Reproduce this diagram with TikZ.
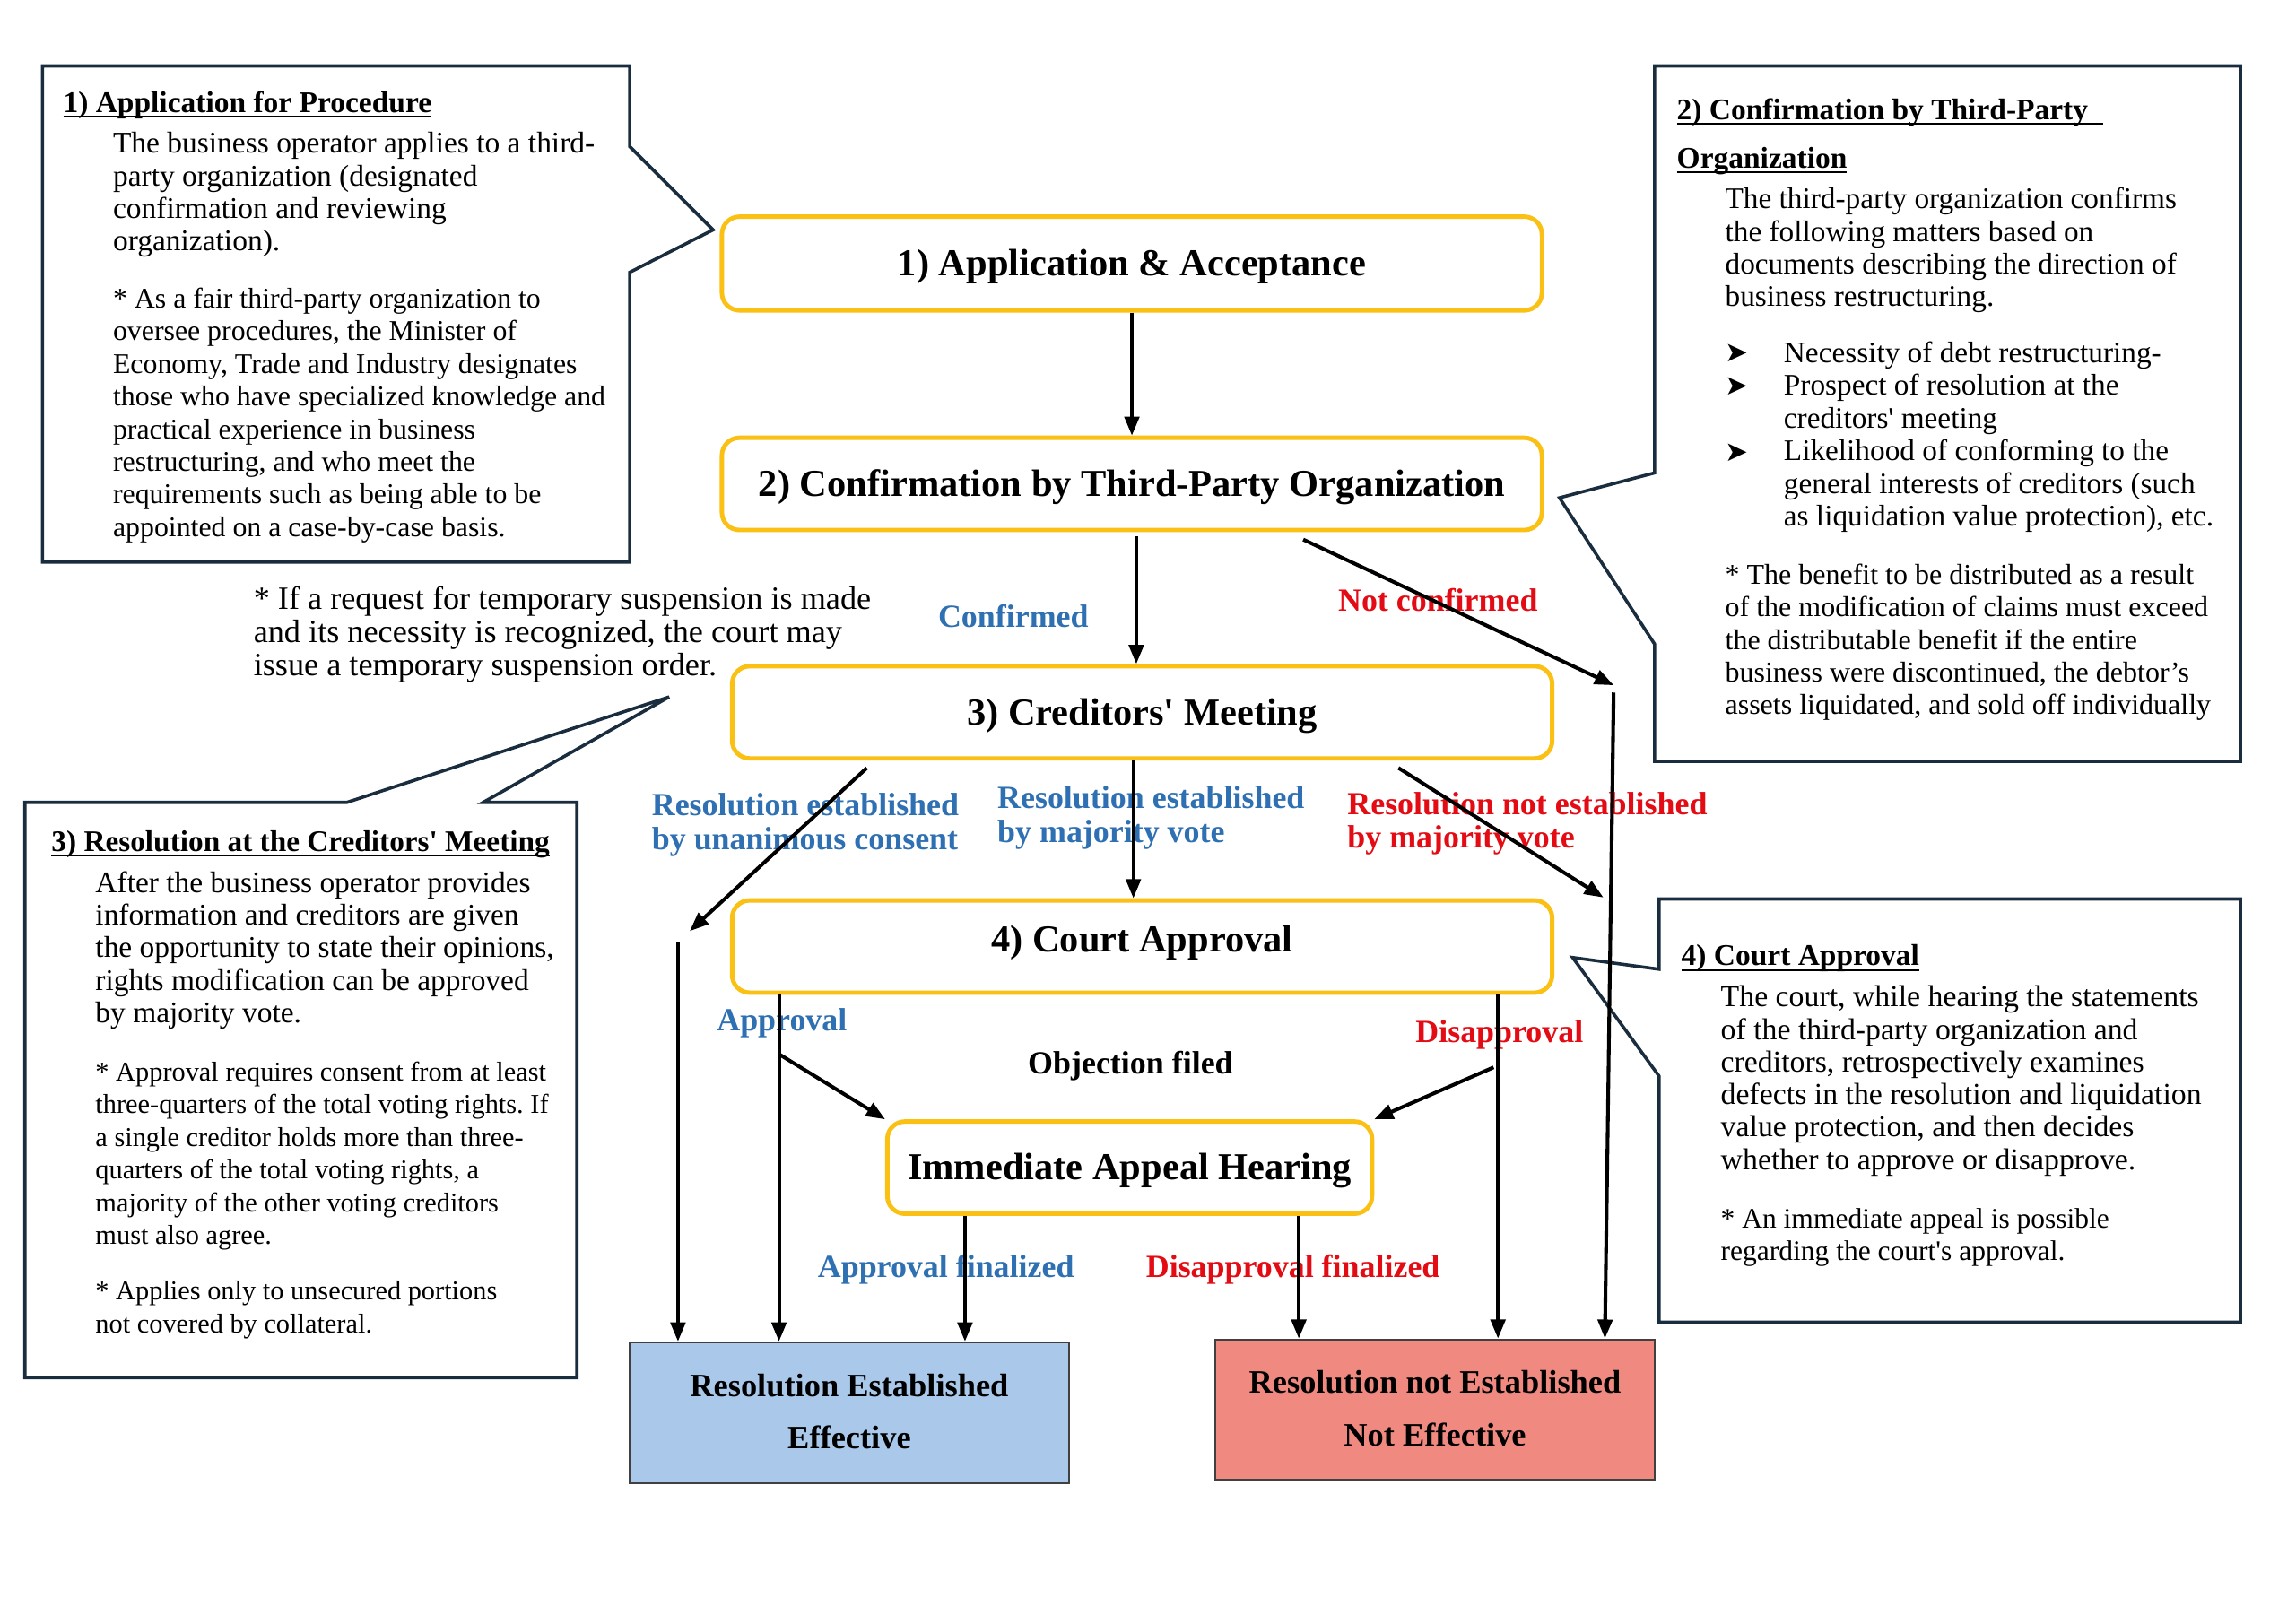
\documentclass[tikz,border=0pt]{standalone}
\usepackage{fontspec}
\setmainfont{Liberation Serif}
\newfontfamily\dejavu{DejaVu Sans}
\usetikzlibrary{arrows.meta}
\definecolor{gold}{RGB}{250,192,20}
\definecolor{navy}{RGB}{25,45,62}
\definecolor{lblue}{RGB}{46,112,178}
\definecolor{lred}{RGB}{228,12,20}
\definecolor{resblue}{RGB}{169,200,234}
\definecolor{resred}{RGB}{240,138,128}
\newsavebox\ulbox
\newcommand\myul[1]{\sbox\ulbox{#1}\rlap{\rule[-3.5pt]{\wd\ulbox}{1.3pt}}\usebox\ulbox}
\newcommand\tp{\rule{0pt}{0.8em}}
\newcommand\sq{\XeTeXglyph\XeTeXcharglyph"27\relax}
\frenchspacing
\begin{document}
\frenchspacing
\begin{tikzpicture}[x=1pt,y=-1pt,
  flow/.style={draw=gold, line width=3, rounded corners=12, fill=white,
    font=\fontsize{26}{30}\selectfont\bfseries, inner sep=0, text height=17, text depth=0},
  res/.style={draw=black!75, line width=1.5, font=\fontsize{22.3}{36}\selectfont\bfseries,
    align=center, minimum width=300, minimum height=96, inner sep=0},
  arr/.style={line width=2.5, -{Triangle[length=13,width=10]}},
  callout/.style={draw=navy, line width=2.2, line join=miter},
  txt/.style={anchor=north west, inner sep=0, align=left},
  lbl/.style={font=\fontsize{22}{23}\selectfont\bfseries, inner sep=0},
  bul/.style={inner sep=0, font=\dejavu\fontsize{19}{19}\selectfont}]
\fill[white] (0,0) rectangle (1568,1109);
\useasboundingbox (0,0) rectangle (1568,1109);

% ---------- callout outlines ----------
\draw[callout] (29,45) -- (430,45) -- (430,100) -- (487,157) -- (430,186) -- (430,384) -- (29,384) -- cycle;
\draw[callout] (1130,45) -- (1530,45) -- (1530,520) -- (1130,520) -- (1130,440) -- (1065,340) -- (1130,323) -- cycle;
\draw[callout] (17,548) -- (237,548) -- (457,476) -- (330,548) -- (394,548) -- (394,941) -- (17,941) -- cycle;
\draw[callout] (1133,614) -- (1530,614) -- (1530,903) -- (1133,903) -- (1133,735) -- (1074,654) -- (1133,662) -- cycle;

% ---------- callout 1 ----------
\node[txt, font=\fontsize{20.5}{22.2}\selectfont\bfseries] (c1t) at (43,60) {\tp\myul{1) Application for Procedure}};
\node[txt, font=\fontsize{20.5}{22.2}\selectfont] (c1b) at (77,88) {\tp The business operator applies to a third-\\party organization (designated\\confirmation and reviewing\\organization).};
\node[txt, font=\fontsize{19.5}{22.3}\selectfont] (c1n) at (77,194.6) {\tp * As a fair third-party organization to\\oversee procedures, the Minister of\\Economy, Trade and Industry designates\\those who have specialized knowledge and\\practical experience in business\\restructuring, and who meet the\\requirements such as being able to be\\appointed on a case-by-case basis.};

% ---------- callout 2 ----------
\node[txt, font=\fontsize{20.5}{33}\selectfont\bfseries] (c2t) at (1145,65) {\tp\myul{2) Confirmation by Third-Party\ \ }\\\myul{Organization}};
\node[txt, font=\fontsize{20.4}{22.3}\selectfont] (c2b) at (1178,126) {\tp The third-party organization confirms\\the following matters based on\\documents describing the direction of\\business restructuring.};
\node[bul] (k1) at (1186,241) {➤};
\node[bul] (k2) at (1186,264) {➤};
\node[bul] (k3) at (1186,309) {➤};
\node[txt, font=\fontsize{20.4}{22.4}\selectfont] (c2l) at (1218,231) {\tp Necessity of debt restructuring-\\Prospect of resolution at the\\creditors\sq{} meeting\\Likelihood of conforming to the\\general interests of creditors (such\\as liquidation value protection), etc.};
\node[txt, font=\fontsize{19.6}{22.3}\selectfont] (c2n) at (1178,383) {\tp * The benefit to be distributed as a result\\of the modification of claims must exceed\\the distributable benefit if the entire\\business were discontinued, the debtor’s\\assets liquidated, and sold off individually};

% ---------- callout 3 ----------
\node[txt, font=\fontsize{20.4}{22.2}\selectfont\bfseries] (c3t) at (35,565) {\tp\myul{3) Resolution at the Creditors\sq{} Meeting}};
\node[txt, font=\fontsize{20.5}{22.25}\selectfont] (c3b) at (65,593) {\tp After the business operator provides\\information and creditors are given\\the opportunity to state their opinions,\\rights modification can be approved\\by majority vote.};
\node[txt, font=\fontsize{18.6}{22.4}\selectfont] (c3n) at (65,723) {\tp * Approval requires consent from at least\\three-quarters of the total voting rights. If\\a single creditor holds more than three-\\quarters of the total voting rights, a\\majority of the other voting creditors\\must also agree.};
\node[txt, font=\fontsize{18.6}{22.4}\selectfont] (c3m) at (65,873) {\tp * Applies only to unsecured portions\\not covered by collateral.};

% ---------- callout 4 ----------
\node[txt, font=\fontsize{20.5}{22.2}\selectfont\bfseries] (c4t) at (1148,643) {\tp\myul{4) Court Approval}};
\node[txt, font=\fontsize{20.7}{22.2}\selectfont] (c4b) at (1175,671) {\tp The court, while hearing the statements\\of the third-party organization and\\creditors, retrospectively examines\\defects in the resolution and liquidation\\value protection, and then decides\\whether to approve or disapprove.};
\node[txt, font=\fontsize{19.3}{22}\selectfont] (c4n) at (1175,823) {\tp * An immediate appeal is possible\\regarding the court\sq{}s approval.};

% ---------- suspension note ----------
\node[txt, font=\fontsize{22.2}{22.5}\selectfont] (sus) at (173,398.4) {\tp * If a request for temporary suspension is made\\and its necessity is recognized, the court may\\issue a temporary suspension order.};

% ---------- flow boxes ----------
\node[flow, minimum width=560, minimum height=64] (b1) at (773,180) {1) Application \& Acceptance};
\node[flow, minimum width=560, minimum height=63] (b2) at (773,330.5) {2) Confirmation by Third-Party Organization};
\node[flow, minimum width=560, minimum height=63] (b3) at (780,486.5) {3) Creditors\sq{} Meeting};
\node[flow, minimum width=560, minimum height=63] (b4) at (780,646.5) {\raisebox{5pt}{4) Court Approval}};
\node[flow, minimum width=331, minimum height=63] (b5) at (771.5,797.5) {Immediate Appeal Hearing};
\node[res, fill=resblue] (r1) at (580,965) {\raisebox{2pt}{Resolution Established}\\\raisebox{2pt}{Effective}};
\node[res, fill=resred] (r2) at (980,963) {\raisebox{2pt}{Resolution not Established}\\\raisebox{2pt}{Not Effective}};

% ---------- labels ----------
\node[lbl, text=lblue] (lconf) at (692,421) {Confirmed};
\node[lbl, text=lred] (lnconf) at (982,410) {Not confirmed};
\node[lbl, txt, text=lblue] (luna) at (445,539.4) {\tp Resolution established\\by unanimous consent};
\node[lbl, txt, text=lblue] (lmaj) at (681,534.4) {\tp Resolution established\\by majority vote};
\node[lbl, txt, text=lred] (lnmaj) at (920,538.4) {\tp Resolution not established\\by majority vote};
\node[lbl, text=lblue] (lapp) at (534,699) {Approval};
\node[lbl, text=lred] (ldis) at (1024,707) {Disapproval};
\node[lbl] (lobj) at (772,728) {Objection filed};
\node[lbl, text=lblue] (lappf) at (646,867) {Approval finalized};
\node[lbl, text=lred] (ldisf) at (883,867) {Disapproval finalized};

% ---------- connectors ----------
\coordinate (nc) at (1102,468);
\coordinate (ncb) at (1102,473);
\coordinate (ua) at (471,636);
\coordinate (ub) at (463,644);
\coordinate (ne) at (1095,613);
\coordinate (ap) at (532,720);
\coordinate (dp) at (1020,729);

\draw[arr] (b1.south) -- (b2.north);
\draw[arr] ([xshift=3,yshift=-3]b2.south) -- ([xshift=-4]b3.north);
\draw[arr] ([xshift=117,yshift=-5]b2.south) -- (nc);
\draw[arr] (ncb) -- ([xshift=116]r2.north);
\draw[arr] ([xshift=-188,yshift=-5]b3.south) -- (ua);
\draw[arr] (ub) -- ([xshift=-117]r1.north);
\draw[arr] ([xshift=-6]b3.south) -- ([xshift=-6]b4.north);
\draw[arr] ([xshift=175,yshift=-5]b3.south) -- (ne);
\draw[arr] ([xshift=-248]b4.south) -- ([xshift=-48]r1.north);
\draw[arr] (ap) -- (b5.north west);
\draw[arr] ([xshift=243]b4.south) -- ([xshift=43]r2.north);
\draw[arr] (dp) -- (b5.north east);
\draw[arr] ([xshift=-112.5]b5.south) -- ([xshift=79]r1.north);
\draw[arr] ([xshift=115.5]b5.south) -- ([xshift=-93]r2.north);
\end{tikzpicture}
\end{document}
